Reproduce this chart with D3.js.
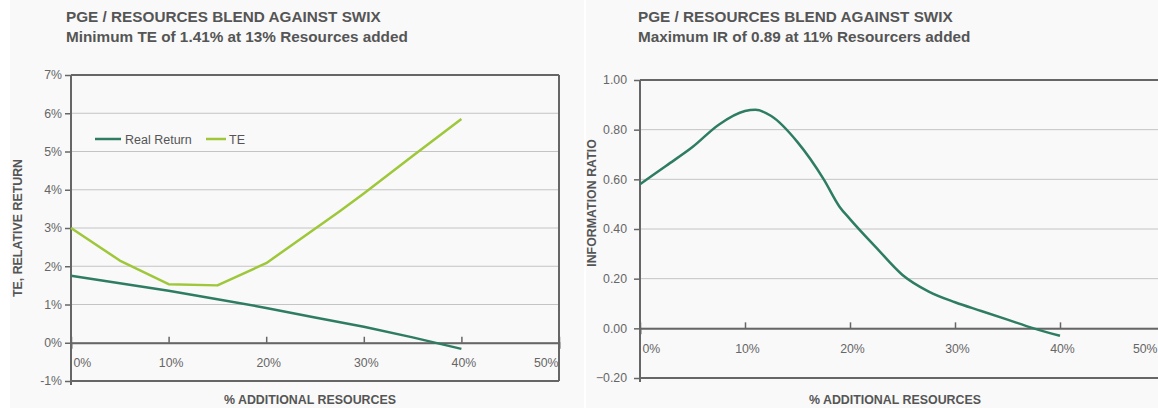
<!DOCTYPE html>
<html>
<head>
<meta charset="utf-8">
<script src="https://cdn.jsdelivr.net/npm/d3@7"></script>
<style>
  body { margin: 0; background: #fff; }
  svg { display: block; font-family: "Liberation Sans", Arial, sans-serif; }
</style>
</head>
<body>
<svg id="chart" width="1158" height="408"></svg>
<script>
// left chart data (% additional resources -> %)
const teX = [0, 5, 10, 15, 20, 25, 27.5, 30, 35, 40];
const teVals = [3.0, 2.15, 1.53, 1.5, 2.08, 2.98, 3.43, 3.9, 4.88, 5.85];
const rrX = [0, 10, 15, 20, 25, 30, 35, 40];
const rrVals = [1.75, 1.36, 1.14, 0.91, 0.66, 0.42, 0.14, -0.16];
const leftTicks = [-1, 0, 1, 2, 3, 4, 5, 6, 7];

// right chart data
const irX = [0, 2.5, 5, 7.5, 10, 11, 12.5, 15, 17.5, 19, 20, 22.5, 25, 27.5, 30, 32.5, 35, 37.5, 40];
const irVals = [0.58, 0.655, 0.73, 0.82, 0.875, 0.88, 0.855, 0.75, 0.6, 0.49, 0.44, 0.325, 0.215, 0.148, 0.105, 0.07, 0.035, 0.0, -0.03];
const rightTicks = [-0.2, 0, 0.2, 0.4, 0.6, 0.8, 1.0];
const xTicks = [0, 10, 20, 30, 40, 50];

const titleText = "PGE / RESOURCES BLEND AGAINST SWIX";
const textColor = "#555";
const darkGreen = "#2e7d63";
const lime = "#9ec73a";

const svg = d3.select("#chart");

// panel backgrounds
svg.append("rect").attr("x", 10).attr("y", 0).attr("width", 574).attr("height", 408).attr("fill", "#f9f9f9");
svg.append("rect").attr("x", 586).attr("y", 0).attr("width", 572).attr("height", 408).attr("fill", "#f9f9f9");

function drawPanel(opt) {
  const g = svg.append("g");
  const x = d3.scaleLinear().domain([0, 50]).range([opt.left, opt.right]);
  const y = d3.scaleLinear().domain(opt.yDomain).range([opt.bottom, opt.top]);

  g.append("text").attr("x", opt.titleX).attr("y", 22)
    .attr("fill", textColor).style("font-size", "15.3px").style("font-weight", "bold")
    .text(titleText);
  g.append("text").attr("x", opt.titleX).attr("y", 42)
    .attr("fill", textColor).style("font-size", "15.3px").style("font-weight", "bold")
    .text(opt.subtitle);

  // gridlines
  g.selectAll(".grid").data(opt.yTicks).enter().append("line")
    .attr("x1", opt.left).attr("x2", opt.right)
    .attr("y1", d => y(d)).attr("y2", d => y(d))
    .attr("stroke", "#c4c4c4").attr("stroke-width", 1);

  // y axis
  const yAxis = d3.axisLeft(y).tickValues(opt.yTicks).tickFormat(opt.yFormat).tickSize(6).tickPadding(opt.yPad);
  const ya = g.append("g").attr("transform", `translate(${opt.left},0)`).call(yAxis);
  ya.select(".domain").remove();
  ya.selectAll("line").attr("stroke", "#666").attr("stroke-width", 1.5);
  ya.selectAll("text").attr("fill", "#666").style("font-size", "12.3px");

  // frame
  const frame = "#666";
  g.append("line").attr("x1", opt.left).attr("x2", opt.left).attr("y1", opt.top).attr("y2", opt.bottom + 4)
    .attr("stroke", frame).attr("stroke-width", 2);
  g.append("line").attr("x1", opt.left).attr("x2", opt.right).attr("y1", opt.top).attr("y2", opt.top)
    .attr("stroke", frame).attr("stroke-width", 2);
  g.append("line").attr("x1", opt.left).attr("x2", opt.right).attr("y1", opt.bottom).attr("y2", opt.bottom)
    .attr("stroke", frame).attr("stroke-width", 2);
  g.append("line").attr("x1", opt.right).attr("x2", opt.right).attr("y1", opt.top).attr("y2", opt.bottom)
    .attr("stroke", frame).attr("stroke-width", 2);

  // x axis at zero
  const xAxis = d3.axisBottom(x).tickValues(xTicks).tickFormat(d => d + "%").tickSize(6).tickPadding(10);
  const xa = g.append("g").attr("transform", `translate(0,${y(0)})`).call(xAxis);
  xa.select(".domain").attr("stroke", frame).attr("stroke-width", 2);
  xa.selectAll("line").attr("stroke", frame).attr("stroke-width", 1.5).attr("y1", -6).attr("y2", 0);
  xa.selectAll("text").attr("fill", "#666").style("font-size", "12.3px")
    .attr("text-anchor", (d, i) => i === 0 ? "start" : (i === xTicks.length - 1 ? "end" : "middle"))
    .attr("dx", (d, i) => i === 0 ? 2 : (i === xTicks.length - 1 ? opt.lastDx : 2));

  // axis titles
  g.append("text").attr("x", opt.xTitleX).attr("y", 404).attr("text-anchor", "middle")
    .attr("fill", textColor).style("font-size", "12.4px").style("font-weight", "bold")
    .text("% ADDITIONAL RESOURCES");
  g.append("text").attr("transform", `translate(${opt.yTitleX},${opt.yTitleY}) rotate(-90)`)
    .attr("text-anchor", "middle")
    .attr("fill", textColor).style("font-size", "12.4px").style("font-weight", "bold")
    .text(opt.yTitle);

  opt.series.forEach(s => {
    const line = d3.line().x(d => x(d[0])).y(d => y(d[1])).curve(s.curve || d3.curveLinear);
    g.append("path").datum(d3.zip(s.x, s.v))
      .attr("fill", "none").attr("stroke", s.color).attr("stroke-width", 2.5)
      .attr("stroke-linejoin", "round")
      .attr("d", line);
  });
  return g;
}

const left = drawPanel({
  left: 71, right: 559, top: 75, bottom: 381, yDomain: [-1, 7], yTicks: leftTicks,
  yFormat: d => d + "%", yPad: 3, lastDx: -1, titleX: 66, subtitle: "Minimum TE of 1.41% at 13% Resources added",
  xTitleX: 310, yTitleX: 22, yTitleY: 228, yTitle: "TE, RELATIVE RETURN",
  series: [
    { x: rrX, v: rrVals, color: darkGreen },
    { x: teX, v: teVals, color: lime }
  ]
});

// legend
const legend = left.append("g").attr("transform", "translate(95,139)");
legend.append("line").attr("x1", 0).attr("x2", 26).attr("stroke", darkGreen).attr("stroke-width", 2.5);
legend.append("text").attr("x", 30).attr("y", 4.5).attr("fill", textColor).style("font-size", "12.5px").text("Real Return");
legend.append("line").attr("x1", 111).attr("x2", 131).attr("stroke", lime).attr("stroke-width", 2.5);
legend.append("text").attr("x", 134).attr("y", 4.5).attr("fill", textColor).style("font-size", "12.5px").text("TE");

drawPanel({
  left: 640, right: 1165, top: 80, bottom: 378, yDomain: [-0.2, 1.0], yTicks: rightTicks,
  yFormat: d3.format(".2f"), yPad: 7, lastDx: -8, titleX: 638, subtitle: "Maximum IR of 0.89 at 11% Resourcers added",
  xTitleX: 895, yTitleX: 596, yTitleY: 203, yTitle: "INFORMATION RATIO",
  series: [{ x: irX, v: irVals, color: darkGreen, curve: d3.curveMonotoneX }]
});
</script>
</body>
</html>
